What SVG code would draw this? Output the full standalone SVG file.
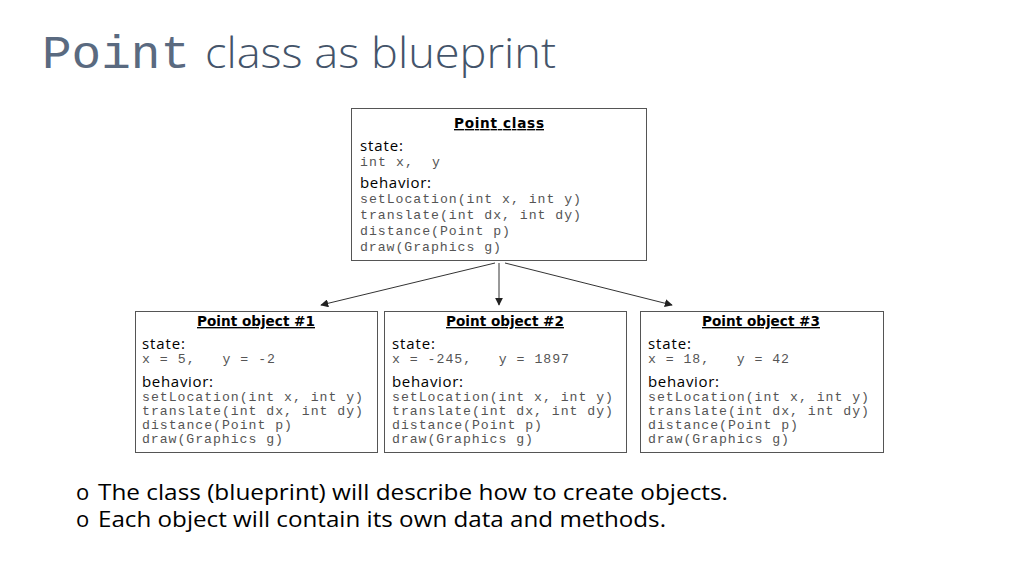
<svg xmlns="http://www.w3.org/2000/svg" width="1024" height="576" viewBox="0 0 1024 576">
<style>
.box{fill:#fff;stroke:#555;stroke-width:1}
.hd{font-family:"DejaVu Sans",Verdana,sans-serif;font-weight:bold;font-size:13.6px;fill:#000;text-decoration:underline}
.lb{font-family:"Open Sans","Liberation Sans",sans-serif;font-size:15px;fill:#000}
.mono{font-family:"Liberation Mono","Courier New",monospace;font-size:13.2px;fill:#555}
.conn{stroke:#333;stroke-width:1;fill:none;marker-end:url(#ah)}
.bul{font-family:"Open Sans","Liberation Sans",sans-serif;font-size:22px;fill:#000}
</style>
<defs>
<marker id="ah" viewBox="0 0 10 10" refX="9" refY="5" markerWidth="8" markerHeight="8" markerUnits="userSpaceOnUse" orient="auto">
<path d="M0,0 L10,5 L0,10 z" fill="#222"/>
</marker>
</defs>
<rect width="1024" height="576" fill="#fff"/>
<g id="title">
<text x="42" y="68" font-family="Liberation Mono,monospace" font-size="46" fill="#5A6A80" textLength="148" lengthAdjust="spacingAndGlyphs">Point</text>
<text x="205" y="68" font-family="Open Sans,sans-serif" font-weight="300" font-size="42" fill="#44546A" textLength="351" lengthAdjust="spacingAndGlyphs">class as blueprint</text>
</g>
<g id="connectors">
<line class="conn" x1="495" y1="263" x2="321" y2="305"/>
<line class="conn" x1="499" y1="263" x2="499" y2="305"/>
<line class="conn" x1="505" y1="263" x2="672" y2="305"/>
</g>
<g id="point-class">
<rect class="box" x="351.5" y="108.5" width="295" height="152"/>
<text class="hd" x="499" y="128" text-anchor="middle" font-size="14.5" textLength="90">Point class</text>
<text class="lb" x="360" y="151" textLength="43">state:</text>
<text class="mono" x="360" y="166" xml:space="preserve" textLength="80">int x,  y</text>
<text class="lb" x="360" y="188" textLength="71">behavior:</text>
<text class="mono" x="360" y="203" textLength="221">setLocation(int x, int y)</text>
<text class="mono" x="360" y="219" textLength="221">translate(int dx, int dy)</text>
<text class="mono" x="360" y="235" textLength="150">distance(Point p)</text>
<text class="mono" x="360" y="251" textLength="141">draw(Graphics g)</text>
</g>
<g id="object-1">
<rect class="box" x="135.5" y="311.5" width="242" height="141"/>
<text class="hd" x="256" y="326" text-anchor="middle">Point object #1</text>
<text class="lb" x="142" y="349" textLength="43">state:</text>
<text class="mono" x="142" y="363" xml:space="preserve" textLength="133">x = 5,   y = -2</text>
<text class="lb" x="142" y="387" textLength="71">behavior:</text>
<text class="mono" x="142" y="401" textLength="221">setLocation(int x, int y)</text>
<text class="mono" x="142" y="415" textLength="221">translate(int dx, int dy)</text>
<text class="mono" x="142" y="429" textLength="150">distance(Point p)</text>
<text class="mono" x="142" y="443" textLength="141">draw(Graphics g)</text>
</g>
<g id="object-2">
<rect class="box" x="384.5" y="311.5" width="242" height="141"/>
<text class="hd" x="505" y="326" text-anchor="middle">Point object #2</text>
<text class="lb" x="392" y="349" textLength="43">state:</text>
<text class="mono" x="392" y="363" xml:space="preserve" textLength="177">x = -245,   y = 1897</text>
<text class="lb" x="392" y="387" textLength="71">behavior:</text>
<text class="mono" x="392" y="401" textLength="221">setLocation(int x, int y)</text>
<text class="mono" x="392" y="415" textLength="221">translate(int dx, int dy)</text>
<text class="mono" x="392" y="429" textLength="150">distance(Point p)</text>
<text class="mono" x="392" y="443" textLength="141">draw(Graphics g)</text>
</g>
<g id="object-3">
<rect class="box" x="640.5" y="311.5" width="243" height="141"/>
<text class="hd" x="761" y="326" text-anchor="middle">Point object #3</text>
<text class="lb" x="648" y="349" textLength="43">state:</text>
<text class="mono" x="648" y="363" xml:space="preserve" textLength="141">x = 18,   y = 42</text>
<text class="lb" x="648" y="387" textLength="71">behavior:</text>
<text class="mono" x="648" y="401" textLength="221">setLocation(int x, int y)</text>
<text class="mono" x="648" y="415" textLength="221">translate(int dx, int dy)</text>
<text class="mono" x="648" y="429" textLength="150">distance(Point p)</text>
<text class="mono" x="648" y="443" textLength="141">draw(Graphics g)</text>
</g>
<g id="bullets">
<text class="bul" x="76" y="500" font-size="20">o</text>
<text class="bul" x="98" y="500" textLength="630" lengthAdjust="spacingAndGlyphs">The class (blueprint) will describe how to create objects.</text>
<text class="bul" x="76" y="527" font-size="20">o</text>
<text class="bul" x="98" y="527" textLength="568" lengthAdjust="spacingAndGlyphs">Each object will contain its own data and methods.</text>
</g>
</svg>
